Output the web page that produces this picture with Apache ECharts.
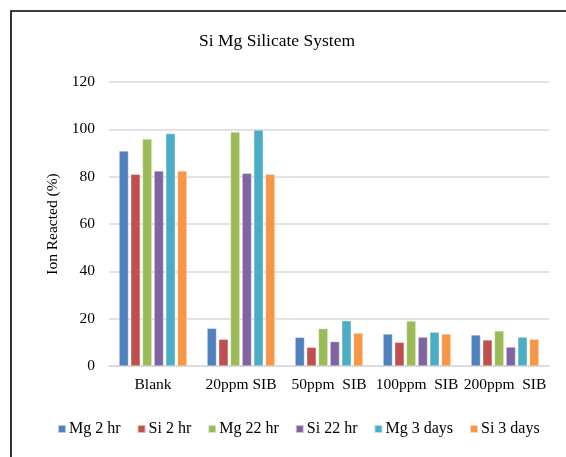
<!DOCTYPE html>
<html>
<head>
<meta charset="utf-8">
<title>Si Mg Silicate System</title>
<script src="https://cdn.jsdelivr.net/npm/echarts@6/dist/echarts.min.js"></script>
<style>
  html, body { margin: 0; padding: 0; background: #ffffff; }
  #chart { width: 566px; height: 457px; }
</style>
</head>
<body>
<div id="chart"></div>
<script>
// Sample groups along the x axis
const categories = ['Blank', '20ppm SIB', '50ppm  SIB', '100ppm  SIB', '200ppm  SIB'];

// Percentage of ion reacted for each series
const mg2hr  = [90.8, 15.9, 12.1, 13.5, 13.1];
const si2hr  = [81.0, 11.3,  7.9, 10.0, 11.0];
const mg22hr = [95.9, 98.9, 15.8, 19.0, 14.8];
const si22hr = [82.4, 81.4, 10.3, 12.2,  8.0];
const mg3d   = [98.2, 99.7, 19.1, 14.3, 12.2];
const si3d   = [82.4, 81.0, 13.9, 13.5, 11.3];

const seriesNames = ['Mg 2 hr', 'Si 2 hr', 'Mg 22 hr', 'Si 22 hr', 'Mg 3 days', 'Si 3 days'];
const seriesValues = [mg2hr, si2hr, mg22hr, si22hr, mg3d, si3d];
const palette = ['#4F81BD', '#C0504D', '#9BBB59', '#8064A2', '#4BACC6', '#F79646'];

const FONT = '"Liberation Serif", "Times New Roman", serif';

const chart = echarts.init(document.getElementById('chart'), null, { renderer: 'canvas' });

chart.setOption({
  animation: false,
  backgroundColor: '#ffffff',
  color: palette,
  title: {
    text: 'Si Mg Silicate System',
    left: 194,
    top: 27,
    textStyle: { fontFamily: FONT, fontSize: 17.5, fontWeight: 'normal', color: '#000000' }
  },
  // frame edge of the chart area
  graphic: [{
    type: 'rect',
    shape: { x: 11, y: 11, width: 700, height: 600 },
    style: { fill: 'none', stroke: '#000000', lineWidth: 1.6 },
    silent: true
  }],
  legend: {
    data: seriesNames,
    left: 57,
    top: 421,
    padding: 0,
    icon: 'rect',
    itemWidth: 8,
    itemHeight: 8,
    itemGap: 16,
    textStyle: { fontFamily: FONT, fontSize: 16, color: '#000000', padding: [0, 0, 0, -2] }
  },
  grid: { left: 109, right: 17, top: 82, bottom: 91, containLabel: false },
  xAxis: {
    type: 'category',
    data: categories,
    axisTick: { show: false },
    axisLine: { lineStyle: { color: '#d9d9d9', width: 1.6 } },
    axisLabel: { interval: 0, margin: 11, fontFamily: FONT, fontSize: 15.5, color: '#000000' }
  },
  yAxis: {
    type: 'value',
    min: 0,
    max: 120,
    interval: 20,
    name: 'Ion Reacted (%)',
    nameLocation: 'middle',
    nameRotate: 90,
    nameGap: 44,
    nameTextStyle: { fontFamily: FONT, fontSize: 15.5, color: '#000000' },
    axisLine: { show: false },
    axisTick: { show: false },
    axisLabel: { margin: 14, fontFamily: FONT, fontSize: 15.5, color: '#000000' },
    splitLine: { lineStyle: { color: '#d9d9d9', width: 1.6 } }
  },
  series: seriesNames.map((name, i) => ({
    name: name,
    type: 'bar',
    data: seriesValues[i],
    barGap: '25%',
    barCategoryGap: '23%',
    itemStyle: { color: palette[i], borderColor: 'rgba(255,255,255,0.6)', borderWidth: 0.5 }
  }))
});
</script>
</body>
</html>
